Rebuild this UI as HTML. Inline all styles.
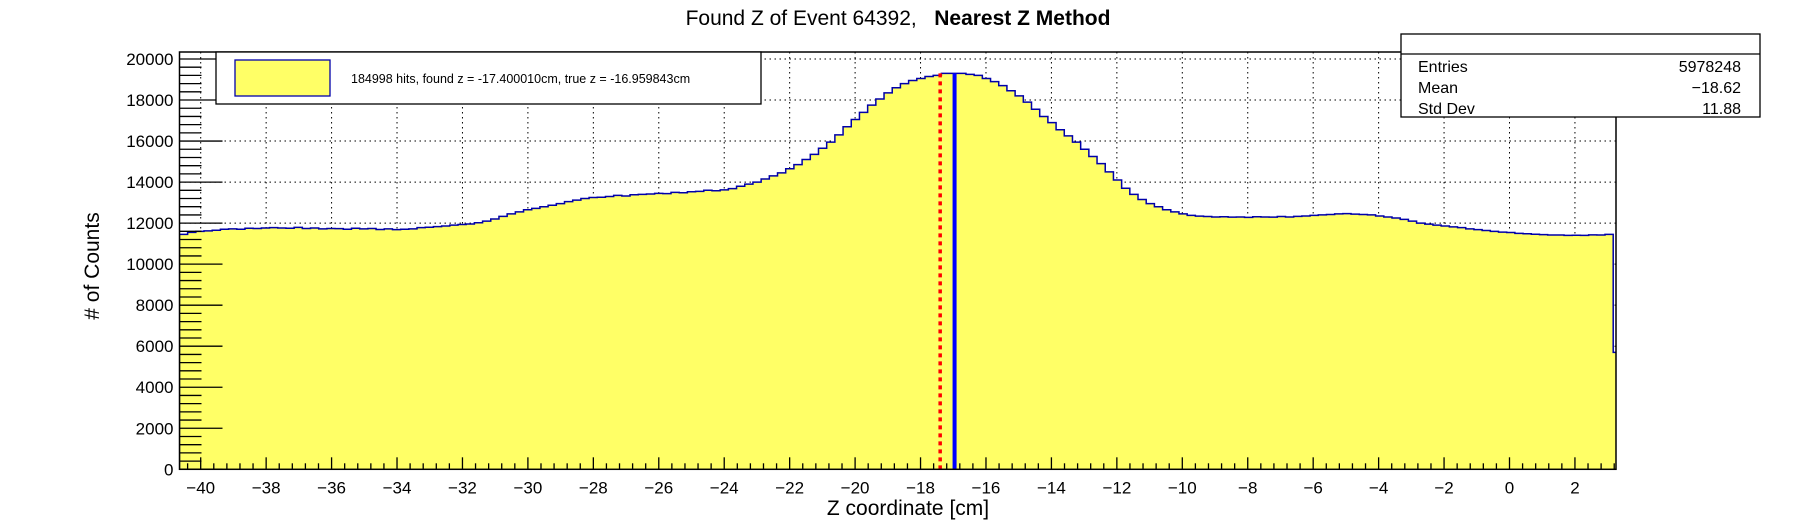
<!DOCTYPE html>
<html><head><meta charset="utf-8"><style>
html,body{margin:0;padding:0;background:#fff}
svg{display:block;font-family:"Liberation Sans",Arial,sans-serif}
</style></head><body>
<svg id="c" width="1796" height="522" viewBox="0 0 1796 522">
<defs><clipPath id="pc"><rect x="179.5" y="40" width="1436.5" height="430"/></clipPath></defs>
</svg>
<script>
const counts = [
11450,11550,11600,11620, 11650,11700,11720,11700, 11750,11740,11760,11780, 11760,11750,11790,11740,
11760,11720,11740,11730, 11700,11750,11720,11740, 11690,11720,11680,11700, 11720,11780,11800,11830,
11860,11900,11930,11960, 12020,12100,12200,12330, 12450,12550,12650,12720, 12800,12870,12950,13050,
13120,13200,13250,13260, 13300,13350,13320,13380, 13400,13420,13450,13440, 13500,13480,13530,13550,
13600,13580,13620,13680, 13800,13900,14000,14150, 14300,14450,14650,14850, 15100,15350,15650,15950,
16300,16700,17050,17400, 17750,18050,18350,18600, 18800,18950,19050,19150, 19200,19300,19300,19300,
19250,19200,19050,18900, 18700,18450,18200,17900, 17550,17200,16900,16550, 16250,15950,15600,15250,
14900,14500,14100,13700, 13400,13150,12950,12800, 12650,12550,12450,12380, 12340,12320,12300,12310,
12290,12300,12280,12310, 12300,12290,12320,12300, 12330,12350,12380,12400, 12420,12450,12460,12440,
12420,12400,12350,12300, 12250,12180,12100,12000, 11950,11900,11860,11820, 11780,11720,11680,11640,
11600,11560,11540,11500, 11480,11460,11440,11420, 11420,11400,11410,11400, 11430,11420,11450,5700
];
const xRange = [-40.65, 3.42];
const yMaxVal = 20000;
const xTicks = [-40,-38,-36,-34,-32,-30,-28,-26,-24,-22,-20,-18,-16,-14,-12,-10,-8,-6,-4,-2,0,2];
const yTicks = [0,2000,4000,6000,8000,10000,12000,14000,16000,18000,20000];
const foundZ = [-17.40001];
const trueZ = [-16.959843];
const stats = [["Entries","5978248"],["Mean","\u221218.62"],["Std Dev","11.88"]];

const L=179.5,R=1616,T=52,B=469.3;
const X=v=>200.7+(v+40)*32.72;
const Y=v=>B-v*(B-59)/20000;
const svg=document.getElementById('c');
const NS='http://www.w3.org/2000/svg';
function mk(tag,attrs,parent){const e=document.createElementNS(NS,tag);for(const k in attrs)e.setAttribute(k,attrs[k]);(parent||svg).appendChild(e);return e;}

let t=mk('text',{x:898,y:25,'font-size':21,'text-anchor':'middle'});


t.innerHTML='Found Z of Event 64392,&#160;&#160; <tspan font-weight="bold">Nearest Z Method</tspan>';

const n=counts.length,w=(xRange[1]-xRange[0])/n;
let d='M'+X(xRange[0])+','+B;
counts.forEach((c,i)=>{const x0=X(xRange[0]+i*w),x1=X(xRange[0]+(i+1)*w);d+=' L'+x0+','+Y(c)+' L'+x1+','+Y(c);});
d+=' L'+X(xRange[1])+','+B+' Z';

const grid=mk('g',{stroke:'#000','stroke-width':1,'stroke-dasharray':'1.5,3.5'});


xTicks.forEach(v=>mk('line',{x1:X(v),x2:X(v),y1:T,y2:B},grid));
yTicks.forEach(v=>mk('line',{x1:L,x2:R,y1:Y(v),y2:Y(v)},grid));

let fill2=mk('path',{d:d,fill:'#ffff66',stroke:'none','clip-path':'url(#pc)'});



let dl='M'+X(xRange[0])+','+B;
counts.forEach((c,i)=>{const x0=X(xRange[0]+i*w),x1=X(xRange[0]+(i+1)*w);dl+=' L'+x0+','+Y(c)+' L'+x1+','+Y(c);});
dl+=' L'+X(xRange[1])+','+B;
let ol=mk('path',{d:dl,fill:'none',stroke:'#0000aa','stroke-width':1.5,'clip-path':'url(#pc)'});



let rl=mk('line',{x1:X(foundZ[0]),x2:X(foundZ[0]),y1:Y(19300),y2:B,stroke:'#ff0000','stroke-width':3.5,'stroke-dasharray':'4,4'});


let bl=mk('line',{x1:X(trueZ[0]),x2:X(trueZ[0]),y1:Y(19300),y2:B,stroke:'#0000ff','stroke-width':4});



let fr=mk('rect',{x:L,y:T,width:R-L,height:B-T,fill:'none',stroke:'#000','stroke-width':1.5});



const ax=mk('g',{stroke:'#000','stroke-width':1.3});


for(let v=-40.4;v<=3.25;v+=0.4){const major=Math.abs(v-Math.round(v))<0.01&&Math.round(v)%2===0;mk('line',{x1:X(v),x2:X(v),y1:B,y2:B-(major?12:6)},ax);}
for(let v=0;v<=20000;v+=400){const major=v%2000===0;mk('line',{x1:L,x2:L+(major?43:22),y1:Y(v),y2:Y(v)},ax);}

xTicks.forEach(v=>{let e=mk('text',{x:X(v),y:B+24,'font-size':17,'text-anchor':'middle'});


e.textContent=v<0?'\u2212'+(-v):String(v);});
yTicks.forEach(v=>{let e=mk('text',{x:L-6,y:Y(v)+6,'font-size':17,'text-anchor':'end'});


e.textContent=v;});

let xt=mk('text',{x:908,y:515,'font-size':21,'text-anchor':'middle'});


xt.textContent='Z coordinate [cm]';
let yt=mk('text',{x:0,y:0,'font-size':21,'text-anchor':'middle',transform:'translate(99,266) rotate(-90)'});


yt.textContent='# of Counts';

const lg=mk('g',{});


mk('rect',{x:216,y:52,width:545,height:52,fill:'#fff',stroke:'#000','stroke-width':1.3},lg);
let sw=mk('rect',{x:235,y:60,width:95,height:36,fill:'#ffff66',stroke:'#0000aa','stroke-width':1.3},lg);


let lt=mk('text',{x:351,y:83,'font-size':12.5},lg);


lt.textContent='184998 hits, found z = -17.400010cm, true z = -16.959843cm';

const sb=mk('g',{});


mk('rect',{x:1401,y:34,width:359,height:83,fill:'#fff',stroke:'#000','stroke-width':1.3},sb);
mk('line',{x1:1401,x2:1760,y1:54,y2:54,stroke:'#000','stroke-width':1.3},sb);
stats.forEach((s,i)=>{const yy=72+i*21;
let a=mk('text',{x:1418,y:yy,'font-size':16},sb);


a.textContent=s[0];
let b=mk('text',{x:1741,y:yy,'font-size':16,'text-anchor':'end'},sb);


b.textContent=s[1];});
</script>
</body></html>
